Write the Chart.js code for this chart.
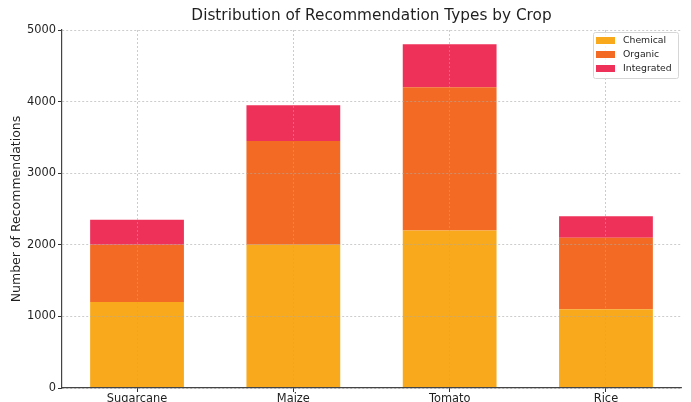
<!DOCTYPE html>
<html><head><meta charset="utf-8">
<script src="https://cdn.jsdelivr.net/npm/chart.js@4"></script>
<style>html,body{margin:0;padding:0;background:#fff}canvas{display:block}</style>
</head><body>
<canvas id="c" width="691" height="402"></canvas>
<script>
// Recommendation counts per crop, split by recommendation type
const crops = ['Sugarcane', 'Maize', 'Tomato', 'Rice'];
const chemical = [1200, 2000, 2200, 1100];
const organic = [800, 1450, 2000, 1000];
const integrated = [350, 500, 600, 300];
const yTicks = [0, 1000, 2000, 3000, 4000, 5000];
const seriesNames = ['Chemical', 'Organic', 'Integrated'];
const titleText = 'Distribution of Recommendation Types by Crop';
const yLabel = 'Number of Recommendations';

const FONT = '"DejaVu Sans", sans-serif';
const TEXT = '#1f1f1f';
const colors = ['#F8AA1C', '#F26A24', '#EE3159'];

const toPoints = arr => arr.map((v, i) => ({ x: i, y: v }));

// Title centred over the plot area
const titlePlugin = {
  id: 'plotTitle',
  afterDraw(chart) {
    const { ctx, chartArea: a } = chart;
    ctx.save();
    ctx.font = '15.3px ' + FONT;
    ctx.fillStyle = TEXT;
    ctx.textAlign = 'center';
    ctx.textBaseline = 'middle';
    ctx.fillText(titleText, (a.left + a.right) / 2, 16);
    ctx.restore();
  }
};

// Framed legend inside the upper-right corner of the plot
const boxLegend = {
  id: 'boxLegend',
  afterDraw(chart) {
    const { ctx, chartArea: a } = chart;
    const w = 85, h = 46;
    const x0 = a.right - 3 - w, y0 = a.top + 2;
    ctx.save();
    ctx.beginPath();
    ctx.roundRect(x0 + 0.5, y0 + 0.5, w, h, 2);
    ctx.fillStyle = 'rgba(255,255,255,0.85)';
    ctx.fill();
    ctx.strokeStyle = '#d6d6d6';
    ctx.lineWidth = 1;
    ctx.stroke();
    ctx.font = '9.3px ' + FONT;
    ctx.textBaseline = 'middle';
    chart.data.datasets.forEach((ds, i) => {
      const cy = y0 + 8.5 + i * 14;
      ctx.fillStyle = ds.backgroundColor;
      ctx.fillRect(x0 + 3, cy - 3.5, 19, 7);
      ctx.fillStyle = TEXT;
      ctx.fillText(ds.label, x0 + 30, cy);
    });
    ctx.restore();
  }
};

const gridStyle = { color: 'rgba(170,170,170,0.75)', lineWidth: 0.8, z: 1, offset: false, tickLength: 4, tickColor: '#333', tickWidth: 1 };
const borderStyle = { display: true, color: '#444', width: 1.2, dash: [2, 2], z: 2 };

new Chart(document.getElementById('c'), {
  type: 'bar',
  data: {
    datasets: [chemical, organic, integrated].map((vals, i) => ({
      label: seriesNames[i],
      data: toPoints(vals),
      backgroundColor: colors[i],
      borderWidth: 0,
      barPercentage: 0.6,
      categoryPercentage: 1
    }))
  },
  options: {
    responsive: false,
    animation: false,
    events: [],
    layout: { padding: { top: 30, right: 10, left: 0, bottom: 0 } },
    plugins: { legend: { display: false }, title: { display: false }, tooltip: { enabled: false } },
    scales: {
      x: {
        type: 'linear',
        stacked: true,
        min: -0.48,
        max: 3.48,
        offset: false,
        grid: gridStyle,
        border: borderStyle,
        afterBuildTicks: s => { s.ticks = crops.map((c, i) => ({ value: i })); },
        afterFit: s => { s.height = 14; },
        ticks: {
          autoSkip: false,
          maxRotation: 0,
          padding: 0,
          color: TEXT,
          font: { family: FONT, size: 11.4 },
          callback: v => crops[v]
        }
      },
      y: {
        stacked: true,
        min: 0,
        max: 5000,
        grid: gridStyle,
        border: borderStyle,
        afterBuildTicks: s => { s.ticks = yTicks.map(v => ({ value: v })); },
        afterFit: s => { s.width = 62; },
        ticks: {
          padding: 2,
          color: TEXT,
          font: { family: FONT, size: 11.4 },
          callback: v => String(v)
        },
        title: {
          display: true,
          text: yLabel,
          color: TEXT,
          font: { family: FONT, size: 12.5 },
          padding: { top: 9.5, bottom: 0 }
        }
      }
    }
  },
  plugins: [titlePlugin, boxLegend]
});
</script>
</body></html>
